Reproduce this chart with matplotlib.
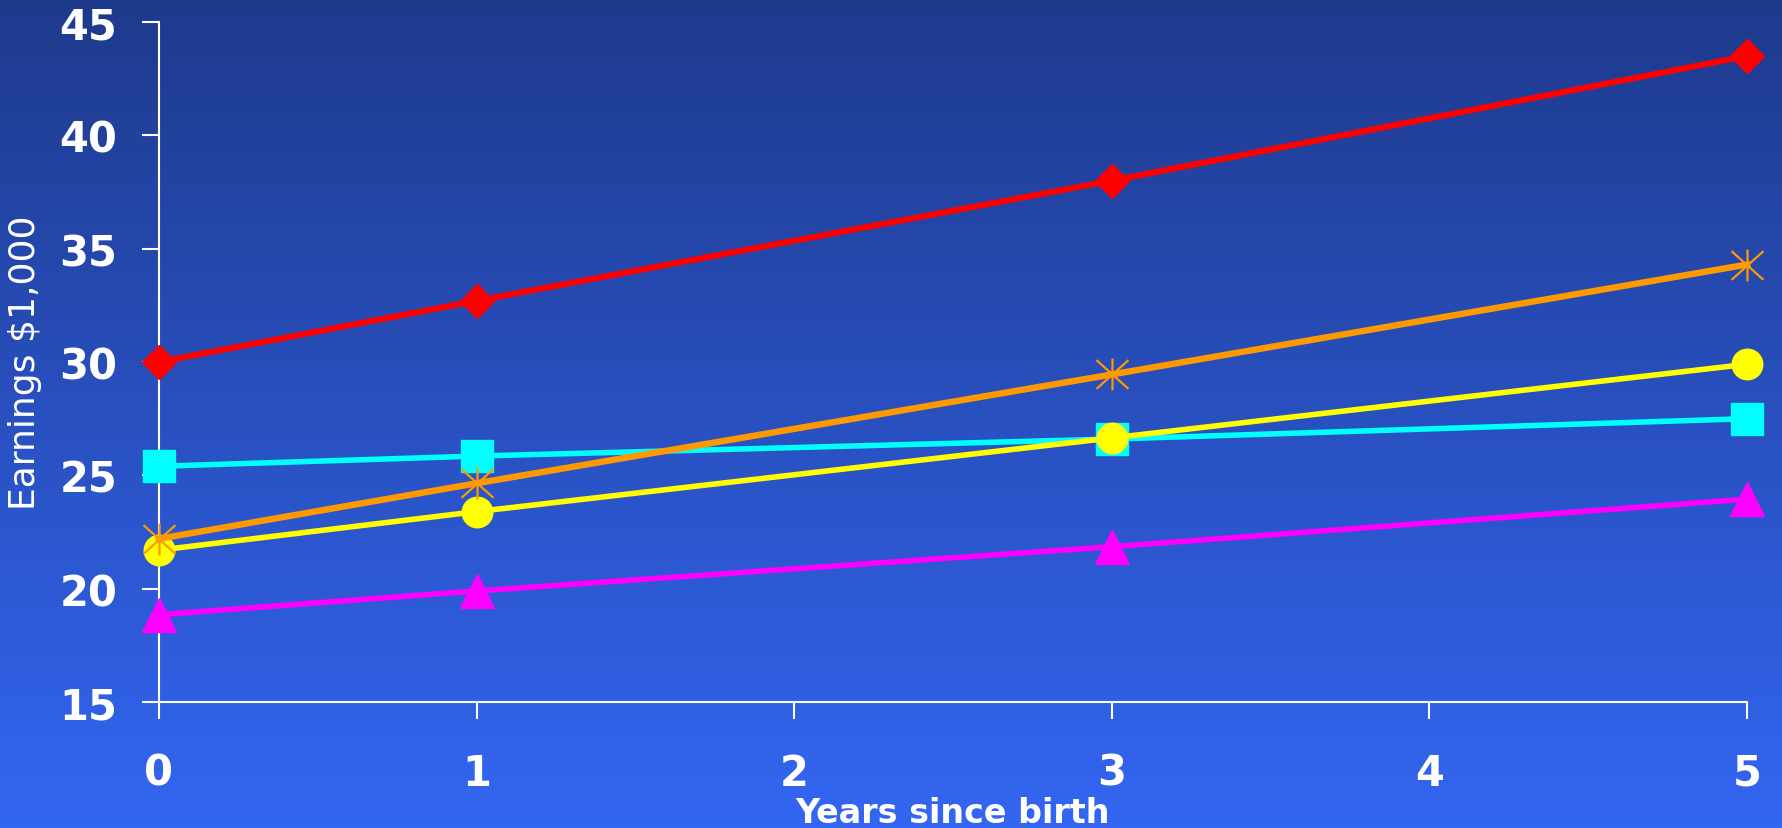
import numpy as np
import matplotlib
matplotlib.use("Agg")
import matplotlib.pyplot as plt
from matplotlib.colors import LinearSegmentedColormap
from matplotlib.path import Path

# years since birth and earnings ($1,000) per group
years = [0, 1, 3, 5]
red_vals = [30.0, 32.7, 38.0, 43.5]
orange_vals = [22.2, 24.65, 29.45, 34.3]
yellow_vals = [21.7, 23.4, 26.65, 29.9]
cyan_vals = [25.4, 25.85, 26.6, 27.5]
magenta_vals = [18.85, 19.9, 21.85, 23.95]

xticks = [0, 1, 2, 3, 4, 5]
yticks = [15, 20, 25, 30, 35, 40, 45]

fig = plt.figure(figsize=(17.82, 8.29), dpi=100)

# background gradient, dark navy at top to bright blue at bottom
bg = fig.add_axes([0, 0, 1, 1], zorder=-1)
cmap = LinearSegmentedColormap.from_list("bg", ["#1e3a8c", "#3366f2"])
bg.imshow(np.linspace(0, 1, 256).reshape(-1, 1), aspect="auto", cmap=cmap,
          extent=[0, 1, 0, 1])
bg.set_axis_off()

W, H = 1782, 829
x0, x1, y0, y1 = 159, 1747, 23, 703
ax = fig.add_axes([x0 / W, 1 - y1 / H, (x1 - x0) / W, (y1 - y0) / H])
ax.patch.set_alpha(0)

# asterisk marker: vertical bar plus an X
star = Path([(0, -1), (0, 1), (-1, -0.9), (1, 0.9), (-1, 0.9), (1, -0.9)],
            [Path.MOVETO, Path.LINETO, Path.MOVETO, Path.LINETO,
             Path.MOVETO, Path.LINETO])

ax.plot(years, magenta_vals, color="#ff00ff", lw=4.0, marker="^", ms=24,
        clip_on=False, zorder=3)
ax.plot(years, cyan_vals, color="#00ffff", lw=4.0, marker="s", ms=23,
        clip_on=False, zorder=4)
ax.plot(years, yellow_vals, color="#ffff00", lw=4.0, marker="o", ms=22,
        clip_on=False, zorder=5)
ax.plot(years, orange_vals, color="#ff9900", lw=4.6, marker=star, ms=23,
        mew=1.6, clip_on=False, zorder=6)
ax.plot(years, red_vals, color="#ff0000", lw=4.4, marker="D", ms=17,
        clip_on=False, zorder=7)

ax.set_xlim(0, 5)
ax.set_ylim(15, 45)
ax.set_xticks(xticks)
ax.set_yticks(yticks)

for s in ["top", "right"]:
    ax.spines[s].set_visible(False)
for s in ["left", "bottom"]:
    ax.spines[s].set_color("white")
    ax.spines[s].set_linewidth(1.5)

ax.tick_params(axis="both", colors="white", width=1.5, length=12,
               labelsize=30)
ax.tick_params(axis="y", pad=18)
ax.tick_params(axis="x", pad=24)
for lab in ax.get_xticklabels() + ax.get_yticklabels():
    lab.set_fontweight("bold")

ax.set_ylabel("Earnings $1,000", color="white", fontsize=26)
ax.yaxis.set_label_coords((42 - x0) / (x1 - x0), 0.5)
fig.text(953 / W, 1 - 814 / H, "Years since birth", color="white",
         fontsize=24, fontweight="bold", ha="center", va="center")

fig.savefig("out.png", dpi=100)
